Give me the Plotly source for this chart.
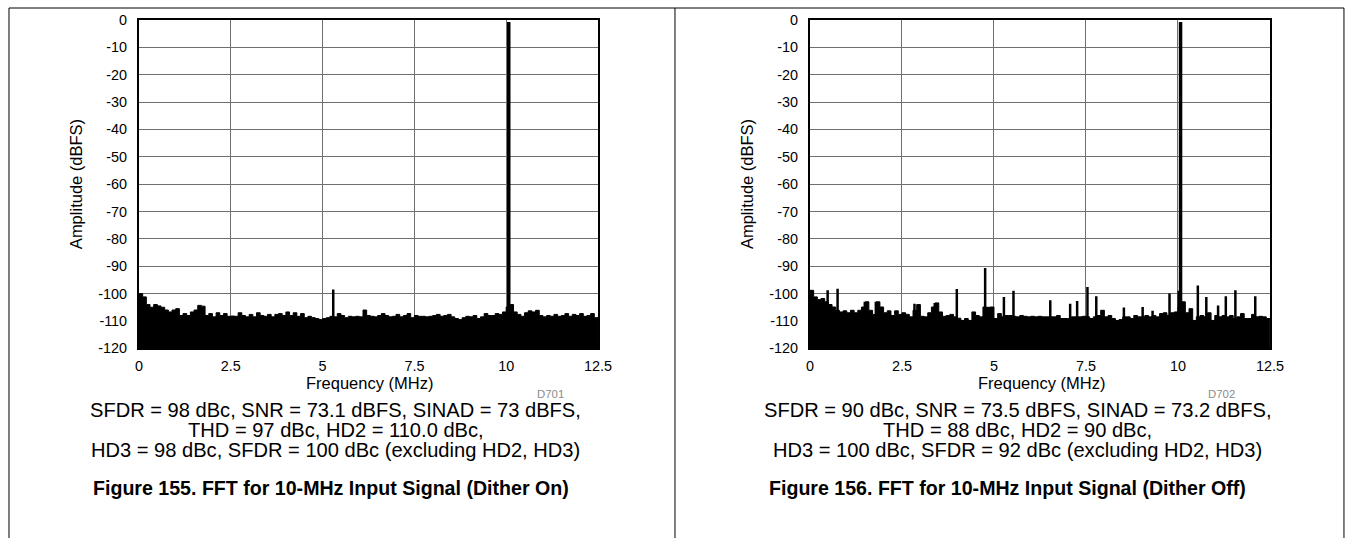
import numpy as np
import plotly.graph_objects as go

W, H = 1351, 538
# measured page -> picture mapping (picture = A + S * figure px)
AX, SX = 4.0, 0.9867
AY, SY = 8.1, 0.969

freq = np.round(np.arange(0, 12.51, 0.1), 1)

# noise floor envelope, dither on (dBFS, every 0.1 MHz)
floor_on = [
    -100, -101.2, -104, -105, -104, -104.5, -105, -106, -106.7, -106,
    -105.5, -108, -107.3, -108, -106.7, -106, -104.3, -104.6, -108, -107.3,
    -108.5, -107, -108, -107.3, -108.3, -108.2, -108.3, -107, -108, -108.5,
    -107.6, -108.5, -107, -108, -108.3, -107.6, -108.5, -107.6, -107.3, -108,
    -106.7, -108, -107, -108.3, -107.3, -108.8, -108.3, -108.8, -109.1, -109.5,
    -109.1, -108.8, -108.3, -108.5, -107.3, -108, -108.8, -108.3, -108.5, -108.3,
    -108.5, -106, -108, -108.3, -108.5, -108, -107.3, -108, -108.5, -108.3,
    -107.6, -108.5, -108, -107.3, -108.8, -108, -108.3, -108.3, -108.5, -108.3,
    -108, -107.6, -108.3, -108, -107.6, -108.5, -109.1, -109.5, -108.8, -108.3,
    -108.5, -108, -109.1, -108.5, -107.3, -108, -108, -107.3, -107.6, -106.7,
    -104.9, -104, -106.7, -107.6, -108.3, -107, -106.3, -106.7, -106.1, -108,
    -108.5, -108, -108.3, -107.6, -108.3, -108, -107.3, -108.3, -107.6, -108,
    -107.3, -108.3, -108, -107.3, -108.8, -108.5,
]
spur_on_f = [5.29]
spur_on_db = [-98.5]

# noise floor envelope, dither off
floor_off = [
    -98.8, -101.2, -102.2, -101.8, -103, -104, -104.9, -106.1, -106.7, -106.3,
    -107, -106.1, -107, -106.1, -104.9, -103, -106.1, -107.6, -103, -104.9,
    -107, -106.3, -108, -106.3, -107.6, -107, -107.6, -108.5, -106.1, -104,
    -108.3, -108.5, -107, -104.9, -103.4, -106.7, -108.3, -108, -107.6, -108.5,
    -109, -109.8, -109.1, -109.8, -106.7, -108, -108.5, -104.9, -105, -104.9,
    -109.1, -107.3, -108.5, -108, -108, -108.3, -108.5, -108, -108.3, -108.5,
    -108.3, -108.5, -108.3, -108.5, -108.5, -108.5, -108.5, -108, -109.1, -109.1,
    -109.1, -108.5, -108.5, -108.5, -108.3, -108.5, -109.1, -108.5, -108, -106.1,
    -108.5, -108, -109.1, -109.8, -109.5, -108.5, -108.5, -109.1, -108, -108.5,
    -108.5, -108, -108.5, -108, -108.5, -107.3, -107, -108, -107, -106.7,
    -104.9, -103, -107, -105.5, -109.8, -108.5, -108, -108.5, -107, -109.8,
    -108, -108.5, -108, -108.5, -108, -109.1, -108.5, -107.3, -109.1, -109.1,
    -107.6, -108.5, -108.3, -108.5, -109.1, -109.1,
]
spur_off_f = [0.48, 0.75, 1.49, 1.79, 2.84, 3.39, 3.99, 4.76, 5.27, 5.53,
              6.53, 7.07, 7.26, 7.54, 7.78, 8.53, 9.04, 9.31, 9.77, 10.02,
              10.54, 10.77, 11.09, 11.3, 11.56, 12.1]
spur_off_db = [-98.8, -98.2, -103, -103, -103.7, -103.4, -98.3, -90.6, -101.2, -99,
               -102.4, -103.7, -102.7, -97.6, -101, -105.1, -104.9, -106.3, -100, -99,
               -97, -101.2, -104.3, -101, -98.8, -101]

fund_f = 10.07
fund_db = -0.8

x_ticks = [0, 2.5, 5, 7.5, 10, 12.5]
x_labels = ["0", "2.5", "5", "7.5", "10", "12.5"]
y_ticks = [0, -10, -20, -30, -40, -50, -60, -70, -80, -90, -100, -110, -120]
y_labels = ["0", "-10", "-20", "-30", "-40", "-50", "-60", "-70", "-80",
            "-90", "-100", "-110", "-120"]

captions_on = ["SFDR = 98 dBc, SNR = 73.1 dBFS, SINAD = 73 dBFS,",
               "THD = 97 dBc, HD2 = 110.0 dBc,",
               "HD3 = 98 dBc, SFDR = 100 dBc (excluding HD2, HD3)"]
captions_off = ["SFDR = 90 dBc, SNR = 73.5 dBFS, SINAD = 73.2 dBFS,",
                "THD = 88 dBc, HD2 = 90 dBc,",
                "HD3 = 100 dBc, SFDR = 92 dBc (excluding HD2, HD3)"]
titles = ["Figure 155. FFT for 10-MHz Input Signal (Dither On)",
          "Figure 156. FFT for 10-MHz Input Signal (Dither Off)"]
codes = ["D701", "D702"]

FONT = "Liberation Sans, Arial, sans-serif"


def px(x):
    # picture x -> paper fraction
    return (x - AX) / SX / W


def py(y):
    return 1 - (y - AY) / SY / H


def fs(size):
    return round(size / SY, 1)


def spikes(fs_, dbs):
    xs, ys = [], []
    for f, d in zip(fs_, dbs):
        xs += [f, f, None]
        ys += [-120, d, None]
    return xs, ys


fig = go.Figure()

panels = [
    ("x", "y", floor_on, spur_on_f, spur_on_db),
    ("x2", "y2", floor_off, spur_off_f, spur_off_db),
]
for xa, ya, fl, sf, sd in panels:
    fig.add_trace(go.Scatter(x=freq, y=[-120] * len(freq), mode="lines",
                             line=dict(width=0, color="black"),
                             xaxis=xa, yaxis=ya, hoverinfo="skip"))
    fig.add_trace(go.Scatter(x=freq, y=fl, mode="lines", fill="tonexty",
                             fillcolor="black", line=dict(width=1, color="black", shape="hv"),
                             xaxis=xa, yaxis=ya))
    sx, sy = spikes(sf, sd)
    fig.add_trace(go.Scatter(x=sx, y=sy, mode="lines",
                             line=dict(width=2.5, color="black"),
                             xaxis=xa, yaxis=ya))
    fx, fy = spikes([fund_f], [fund_db])
    fig.add_trace(go.Scatter(x=fx, y=fy, mode="lines",
                             line=dict(width=3.5, color="black"),
                             xaxis=xa, yaxis=ya))

xaxis_common = dict(range=[0, 12.5], tickvals=x_ticks, ticktext=x_labels,
                    showgrid=True, gridcolor="#707070", gridwidth=1,
                    showline=True, linecolor="black", linewidth=2, mirror=True,
                    zeroline=False, ticks="", ticklabelstandoff=3,
                    tickfont=dict(family=FONT, size=fs(14), color="black"))
yaxis_common = dict(range=[-120, 0], tickvals=y_ticks, ticktext=y_labels,
                    showgrid=True, gridcolor="#707070", gridwidth=1,
                    showline=True, linecolor="black", linewidth=2, mirror=True,
                    zeroline=False, ticks="", ticklabelstandoff=7,
                    tickfont=dict(family=FONT, size=fs(14), color="black"))

y_dom = [py(348), py(20)]
fig.update_layout(
    width=W, height=H, margin=dict(l=0, r=0, t=0, b=0),
    paper_bgcolor="white", plot_bgcolor="white", showlegend=False,
    xaxis=dict(domain=[px(139), px(598)], anchor="y", **xaxis_common),
    yaxis=dict(domain=y_dom, anchor="x", **yaxis_common),
    xaxis2=dict(domain=[px(810), px(1270)], anchor="y2", **xaxis_common),
    yaxis2=dict(domain=y_dom, anchor="x2", **yaxis_common),
)

ann = []
for i, (caps, cx, tx, fx_c, ax_x, code_x) in enumerate([
        (captions_on, 336, 331, 370, 76, 551),
        (captions_off, 1018, 1008, 1042, 747, 1222)]):
    ann.append(dict(text="Frequency (MHz)", x=px(fx_c), y=py(383)))
    ann.append(dict(text="Amplitude (dBFS)", x=px(ax_x), y=py(184), textangle=-90))
    ann.append(dict(text=codes[i], x=px(code_x), y=py(394),
                    font=dict(family=FONT, size=fs(11), color="#8c8c8c")))
    for j, c in enumerate(caps):
        ann.append(dict(text=c, x=px(cx), y=py(410 + 20 * j),
                        font=dict(family=FONT, size=fs(19.5), color="black")))
    ann.append(dict(text="<b>" + titles[i] + "</b>", x=px(tx), y=py(487),
                    font=dict(family=FONT, size=fs(19), color="black")))
for a in ann:
    a.setdefault("font", dict(family=FONT, size=fs(16), color="black"))
    a.update(xref="paper", yref="paper", showarrow=False,
             xanchor="center", yanchor="middle")
fig.update_layout(annotations=ann)

line = dict(color="black", width=1)
top = min(py(4), 1)
fig.update_layout(shapes=[
    dict(type="line", xref="paper", yref="paper", x0=px(9), x1=px(1344),
         y0=top, y1=top, line=line),
    dict(type="line", xref="paper", yref="paper", x0=px(9), x1=px(9),
         y0=top, y1=py(538), line=line),
    dict(type="line", xref="paper", yref="paper", x0=px(675), x1=px(675),
         y0=top, y1=py(538), line=line),
    dict(type="line", xref="paper", yref="paper", x0=px(1344), x1=px(1344),
         y0=top, y1=py(538), line=line),
])

# drop the default page margin so the figure sits at the window origin
page_css = ("document.documentElement.style.margin='0';"
            "document.body.style.margin='0';"
            "document.body.style.overflow='hidden';"
            "document.documentElement.style.overflow='hidden';")
fig.write_html("out.html", post_script=page_css,
               config={"displayModeBar": False})
